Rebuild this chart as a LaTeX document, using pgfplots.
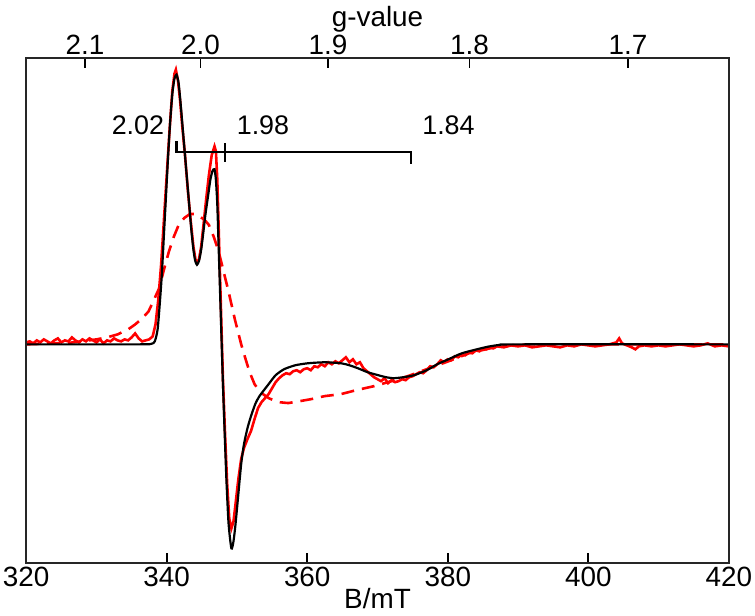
\documentclass[border=0pt]{standalone}
\usepackage{pgfplots}
\pgfplotsset{compat=1.18}
\usepackage{fontspec}
\setmainfont{Liberation Sans}
\definecolor{myred}{RGB}{255,0,0}
\begin{document}
\begin{tikzpicture}
\pgfplotsset{
  common/.style={
    scale only axis, width=353pt, height=254pt,
    xmin=320, xmax=420, ymin=-220, ymax=288,
    tick align=inside, major tick length=5pt,
    tick style={line width=0.8pt, black},
    axis line style={line width=0.8pt, black!85},
    tick label style={font=\fontsize{14}{16}\selectfont},
    label style={font=\fontsize{14}{16}\selectfont},
    /pgf/number format/assume math mode=true,
    xticklabel style={inner sep=1.5pt},
  }
}
\begin{axis}[common,
  xtick={320,340,360,380,400,420}, ytick=\empty,
  xtick pos=lower,
  xlabel={B/mT}, xlabel style={yshift=4pt},
  clip=true]
% dashed broad spectrum
\addplot[myred, line width=1.3pt, dash pattern=on 6.5pt off 4pt] coordinates {
(320,0) (322,0.5) (324,1) (326,1.5) (328,3) (330,5) (331.5,7) (333,10) (334.5,15) (335.5,20) (336.5,26) (337.4,33) (338,42) (338.9,56) (339.6,75) (340.3,93) (341,108) (341.7,120) (342.5,127) (343.3,131) (344.0,131) (344.8,128) (345.4,125) (346,120) (346.7,108) (347.4,93) (348.1,73) (348.8,53) (349.7,25) (350.6,0) (351.1,-12) (351.8,-28) (352.5,-40) (353.3,-48) (354.5,-54) (355.8,-58) (357.3,-59) (359,-57) (360.6,-55) (362.5,-52) (364.8,-50) (367,-46) (369.5,-42) (372,-37) (374.3,-32) (377,-25) (380.1,-17) (383,-9) (386,-4) (389,-1) (392,0) (420,0)
};
% experimental spectrum
\addplot[myred, line width=1.3pt] coordinates {
(320,2) (320.5,3) (321,1) (321.5,4) (322,2) (322.5,5) (323,3) (323.5,1) (324,4) (324.5,6) (325,2) (325.5,4) (326,3) (326.5,7) (327,4) (327.5,2) (328,5) (328.5,3) (329,6) (329.5,4) (330,2) (330.5,5) (331,1) (331.5,4) (332,3) (332.5,6) (333,4) (333.5,3) (334,5) (334.5,4) (335,7) (335.5,11) (336,6) (336.5,3) (337,4) (337.5,5) (338,8)
(338.4,20) (338.8,45) (339.2,80) (339.6,125) (340.0,170) (340.4,215) (340.8,255) (341.1,272) (341.3,276) (341.6,265) (341.9,245) (342.2,220) (342.6,190) (343.0,155) (343.4,125) (343.8,98) (344.1,85) (344.35,82) (344.6,86) (344.9,98) (345.2,118) (345.6,145) (346.0,170) (346.4,190) (346.8,199) (347.0,194) (347.2,165) (347.4,115) (347.6,65) (347.8,15) (348.0,-35) (348.3,-90) (348.6,-140) (348.9,-175) (349.2,-185) (349.5,-178) (349.8,-160) (350.2,-135) (350.6,-115) (351.0,-104) (351.5,-95) (352.0,-87) (352.5,-75) (353.0,-64) (353.5,-58) (354.0,-54) (354.5,-50) (355,-44) (355.5,-38) (356,-34) (356.5,-31) (357,-29) (357.5,-30) (358,-27) (358.5,-26) (359,-28) (359.5,-25) (360,-24) (360.5,-26) (361,-22) (361.5,-23) (362,-20) (362.5,-22) (363,-18) (363.5,-20) (364,-17) (364.5,-19) (365,-16) (365.5,-13) (366,-18) (366.5,-15) (367,-20) (367.5,-18) (368,-24) (368.5,-27) (369,-30) (369.5,-33) (370,-35) (370.5,-37) (371,-34) (371.5,-39) (372,-36) (372.5,-38) (373,-37) (373.5,-35) (374,-36) (374.5,-33) (375,-32) (375.5,-30) (376,-28) (376.5,-29) (377,-26) (377.5,-22) (378,-23) (378.5,-20) (379,-16) (379.5,-18) (380,-15) (380.5,-16) (381,-12) (381.5,-13) (382,-10) (382.5,-11) (383,-8) (383.5,-9) (384,-6) (384.5,-7) (385,-4) (385.5,-5) (386,-3) (386.5,-4) (387,-2) (388,-3) (389,-1) (390,-2) (391,-1) (392,-3) (393,-2) (394,-1) (395,-2) (396,-3) (397,-1) (398,-2) (399,0) (400,-1) (401,-2) (402,-1) (403,0) (404,2) (404.4,6) (404.8,1) (405.5,-1) (406.2,-3) (406.7,-5) (407.2,-2) (408,-1) (409,-2) (410,-1) (411,-2) (412,-1) (413,0) (414,-1) (415,-2) (416,-1) (417,1) (418,-2) (419,-1) (420,-2)
};
% simulation
\addplot[black, line width=1.1pt, smooth, tension=0.4] coordinates {
(320,0) (336,0) (337.8,0.5) (338.3,3) (338.7,15) (339.0,40) (339.3,70) (339.6,110) (339.9,150) (340.2,190) (340.5,225) (340.8,252) (341.1,267) (341.4,271) (341.7,262) (342.0,240) (342.3,215) (342.6,190) (342.9,165) (343.2,140) (343.5,115) (343.8,95) (344.05,84) (344.3,80) (344.6,84) (344.9,95) (345.2,112) (345.5,130) (345.9,150) (346.2,165) (346.5,174) (346.8,176) (347.0,165) (347.2,140) (347.4,95) (347.6,50) (347.8,5) (348.0,-40) (348.25,-90) (348.5,-137) (348.8,-180) (349.2,-205) (349.5,-198) (349.8,-180) (350.2,-150) (350.6,-120) (351.0,-100) (351.5,-84) (352.0,-72) (352.6,-60) (353.2,-52) (354.5,-40) (355.5,-31) (356.7,-25) (358.3,-21) (360.1,-19) (362.5,-18) (364.8,-19) (366,-21) (367.2,-24) (368.6,-28) (370.1,-31) (371.2,-33) (372.3,-34) (373.7,-33) (375.2,-31) (377,-26) (378.5,-20) (380.1,-15) (382,-9) (384.7,-4) (386,-2) (387.5,-0.5) (390,0) (420,0)
};
% stick diagram
\addplot[black, line width=1.2pt] coordinates {(341.39,204) (341.39,193) (374.78,193) (374.78,181)};
\addplot[black, line width=1.2pt] coordinates {(348.28,202) (348.28,183)};
\node[font=\fontsize{13.5}{15}\selectfont] at (axis cs:335.9,220) {2.02};
\node[font=\fontsize{13.5}{15}\selectfont] at (axis cs:353.7,220) {1.98};
\node[font=\fontsize{13.5}{15}\selectfont] at (axis cs:380.1,220) {1.84};
\end{axis}
\begin{axis}[common,
  ytick=\empty,
  xtick pos=upper, xticklabel pos=upper,
  xtick={328.38,344.8,362.95,383.11,405.65},
  xticklabels={2.1,2.0,1.9,1.8,1.7},
  xlabel={g-value}, xlabel style={yshift=-4pt}]
\addplot[draw=none] coordinates {(330,0)};
\end{axis}
\end{tikzpicture}
\end{document}
